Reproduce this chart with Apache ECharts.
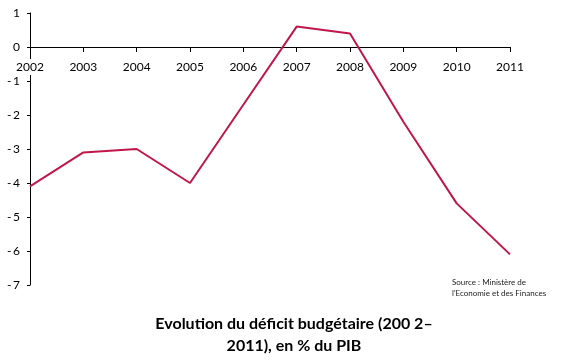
<!DOCTYPE html>
<html>
<head>
<meta charset="utf-8">
<script src="https://cdn.jsdelivr.net/npm/echarts@6/dist/echarts.min.js"></script>
<style>html,body{margin:0;padding:0;background:#fff;}#c{width:561px;height:363px;}</style>
</head>
<body>
<div id="c"></div>
<script>
const years = ['2002','2003','2004','2005','2006','2007','2008','2009','2010','2011'];
const deficit = [-4.1, -3.1, -3.0, -4.0, -1.7, 0.6, 0.4, -2.2, -4.6, -6.1];
const yMin = -7, yMax = 1, yStep = 1;
const titleText = 'Evolution du déficit budgétaire (200 2–\n2011), en % du PIB';
const sourceLines = ['Source : Ministère de', "l'Economie et des Finances"];

const gridTop = 13, gridBottom = 78, H = 363;
const gridH = H - gridTop - gridBottom;
const zeroOffset = -gridH * (0 - yMin) / (yMax - yMin);

const chart = echarts.init(document.getElementById('c'), null, {renderer: 'canvas'});
chart.setOption({
  animation: false,
  backgroundColor: '#fff',
  title: {
    text: titleText,
    left: 289, top: 308, textAlign: 'center',
    textStyle: {fontFamily: 'Lato', fontWeight: 'bold', fontSize: 16, color: '#000', lineHeight: 22}
  },
  graphic: [{
    type: 'text', left: 452, top: 277,
    style: {text: sourceLines.join('\n'), fontFamily: 'Lato', fontSize: 8, lineHeight: 11, fill: '#222'}
  }],
  grid: {left: 30, right: 51, top: gridTop, bottom: gridBottom, containLabel: false},
  xAxis: {
    type: 'category', data: years, boundaryGap: false,
    position: 'bottom', offset: zeroOffset,
    axisLine: {onZero: false, lineStyle: {color: '#000', width: 1}},
    axisTick: {show: true, length: 5, lineStyle: {color: '#000'}},
    axisLabel: {color: '#000', fontFamily: 'Lato', fontSize: 12, margin: 12, interval: 0,
      backgroundColor: '#fff', padding: [2, 1]},
    splitLine: {show: false}
  },
  yAxis: {
    type: 'value', min: yMin, max: yMax, interval: yStep,
    axisLine: {show: true, onZero: false, lineStyle: {color: '#000', width: 1}},
    axisTick: {show: true, length: 3, lineStyle: {color: '#000'}},
    axisLabel: {color: '#000', fontFamily: 'Lato', fontSize: 12, margin: 10,
      formatter: v => v < 0 ? '-\u2009' + Math.abs(v) : String(v)},
    splitLine: {show: false}
  },
  series: [{
    type: 'line', data: deficit, symbol: 'none', z: 5,
    lineStyle: {color: '#C0174A', width: 2}
  }]
});
</script>
</body>
</html>
